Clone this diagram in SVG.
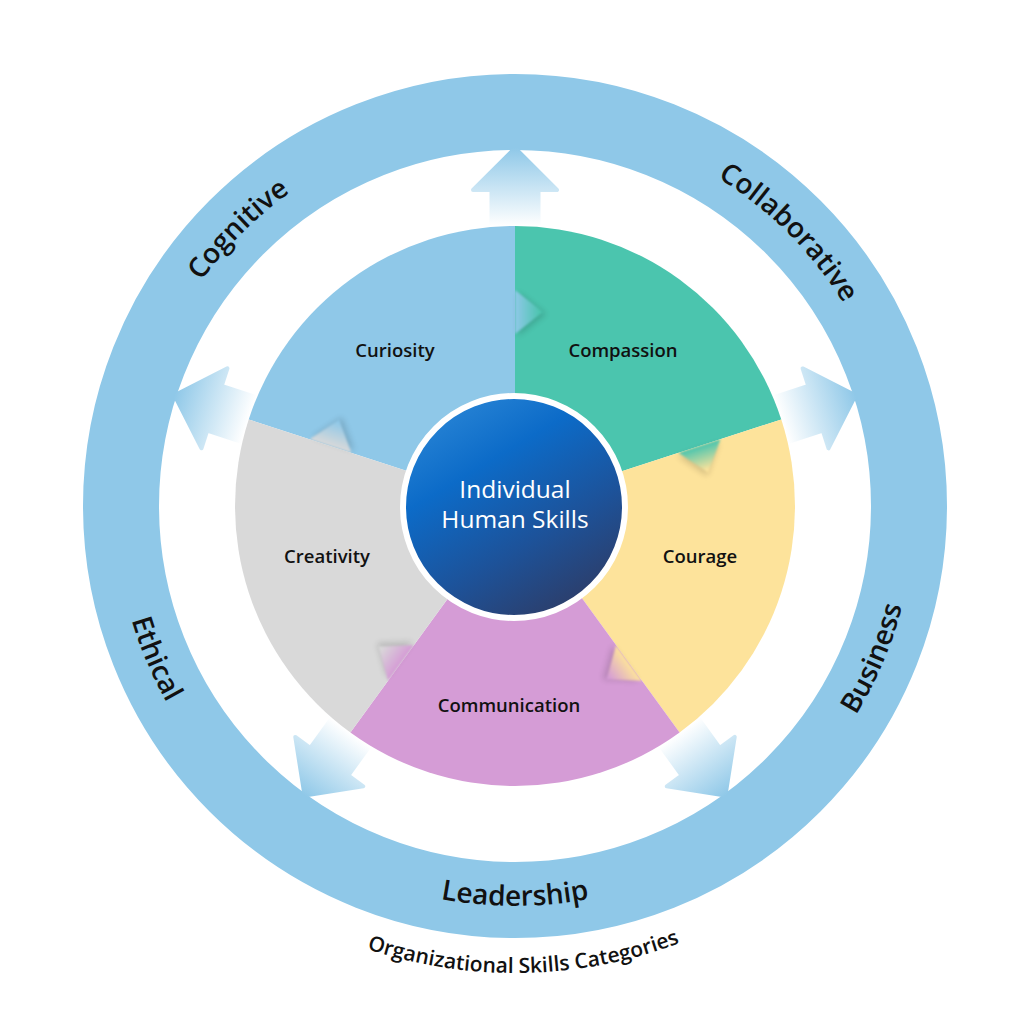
<svg xmlns="http://www.w3.org/2000/svg" width="1024" height="1024" viewBox="0 0 1024 1024">
  <style>
    .lbl { font-family: "Open Sans", "Noto Sans", sans-serif; fill: #111; text-anchor: middle; }
    .sector-lbl { font-size: 18.5px; font-weight: 600; }
    .ring-lbl { font-size: 28px; font-weight: 600; }
    .org-lbl { font-size: 21px; font-weight: 600; }
    .center-lbl { font-family: "Open Sans", "Noto Sans", sans-serif; font-size: 24.5px; fill: #fff; text-anchor: middle; }
    .arrow { stroke-linejoin: round; stroke-width: 4; }
  </style>
  <defs>
    <linearGradient id="arrowGrad" gradientUnits="userSpaceOnUse" x1="0" y1="-280" x2="0" y2="-358">
      <stop offset="0" stop-color="#ffffff"/>
      <stop offset="1" stop-color="#8fc8e8"/>
    </linearGradient>
    <linearGradient id="centerGrad" x1="0.2" y1="0" x2="0.8" y2="1">
      <stop offset="0" stop-color="#2a86d6"/>
      <stop offset="0.3" stop-color="#0c6bc8"/>
      <stop offset="0.65" stop-color="#1d5299"/>
      <stop offset="1" stop-color="#2f3a62"/>
    </linearGradient>
    <linearGradient id="tab0" gradientUnits="userSpaceOnUse" x1="0" y1="0" x2="28" y2="0">
      <stop offset="0" stop-color="#8fc8e8"/><stop offset="0.9" stop-color="#4bc5ae"/>
    </linearGradient>
    <linearGradient id="tab1" gradientUnits="userSpaceOnUse" x1="0" y1="0" x2="28" y2="0">
      <stop offset="0" stop-color="#4bc5ae"/><stop offset="0.9" stop-color="#fde39b"/>
    </linearGradient>
    <linearGradient id="tab2" gradientUnits="userSpaceOnUse" x1="0" y1="0" x2="28" y2="0">
      <stop offset="0" stop-color="#fde39b"/><stop offset="0.9" stop-color="#d59cd6"/>
    </linearGradient>
    <linearGradient id="tab3" gradientUnits="userSpaceOnUse" x1="0" y1="0" x2="28" y2="0">
      <stop offset="0" stop-color="#d59cd6"/><stop offset="0.9" stop-color="#d9d9d9"/>
    </linearGradient>
    <linearGradient id="tab4" gradientUnits="userSpaceOnUse" x1="0" y1="0" x2="28" y2="0">
      <stop offset="0" stop-color="#d9d9d9"/><stop offset="0.9" stop-color="#8fc8e8"/>
    </linearGradient>
    <filter id="soft" x="-50%" y="-50%" width="200%" height="200%">
      <feGaussianBlur stdDeviation="1.2"/>
    </filter>
    <filter id="shadow" x="-60%" y="-60%" width="220%" height="220%">
      <feGaussianBlur stdDeviation="3"/>
    </filter>
    <path id="tabShape" d="M 0,-216 L 28,-194 L 0,-172 Z"/>
    <path id="arrowShape" d="M -23.5,-276 L -23.5,-316 L -42,-316 L 0,-358 L 42,-316 L 23.5,-316 L 23.5,-276 Z"/>
    <path id="topArc" d="M 129,506 A 386 386 0 0 1 901,506"/>
    <path id="botArc" d="M 115,506 A 400 400 0 0 0 915,506"/>
    <path id="orgArc" d="M 48,506 A 467 467 0 0 0 982,506"/>
  </defs>

  <rect width="1024" height="1024" fill="#ffffff"/>

  <g id="ring">
    <circle cx="515" cy="506" r="394" fill="none" stroke="#8fc8e8" stroke-width="76"/>
  </g>

  <g id="connectors">
    <use href="#arrowShape" class="arrow" fill="url(#arrowGrad)" stroke="url(#arrowGrad)" transform="translate(515,506) rotate(0)"/>
    <use href="#arrowShape" class="arrow" fill="url(#arrowGrad)" stroke="url(#arrowGrad)" transform="translate(515,506) rotate(72)"/>
    <use href="#arrowShape" class="arrow" fill="url(#arrowGrad)" stroke="url(#arrowGrad)" transform="translate(515,506) rotate(144)"/>
    <use href="#arrowShape" class="arrow" fill="url(#arrowGrad)" stroke="url(#arrowGrad)" transform="translate(515,506) rotate(216)"/>
    <use href="#arrowShape" class="arrow" fill="url(#arrowGrad)" stroke="url(#arrowGrad)" transform="translate(515,506) rotate(288)"/>
  </g>

  <g id="curiosity">
    <path d="M 515,506 L 248.7,419.5 A 280 280 0 0 1 515,226 Z" fill="#8fc8e8"/>
  </g>
  <g id="compassion">
    <path d="M 515,506 L 515,226 A 280 280 0 0 1 781.3,419.5 Z" fill="#4bc5ae"/>
  </g>
  <g id="courage">
    <path d="M 515,506 L 781.3,419.5 A 280 280 0 0 1 679.6,732.5 Z" fill="#fde39b"/>
  </g>
  <g id="communication">
    <path d="M 515,506 L 679.6,732.5 A 280 280 0 0 1 350.4,732.5 Z" fill="#d59cd6"/>
  </g>
  <g id="creativity">
    <path d="M 515,506 L 350.4,732.5 A 280 280 0 0 1 248.7,419.5 Z" fill="#d9d9d9"/>
  </g>

  <g id="tabs">
    <g transform="translate(515,506) rotate(0)">
      <use href="#tabShape" fill="#000" opacity="0.15" filter="url(#shadow)" transform="translate(3,2)"/>
      <use href="#tabShape" fill="url(#tab0)" filter="url(#soft)"/>
    </g>
    <g transform="translate(515,506) rotate(72)">
      <use href="#tabShape" fill="#000" opacity="0.15" filter="url(#shadow)" transform="translate(3,2)"/>
      <use href="#tabShape" fill="url(#tab1)" filter="url(#soft)"/>
    </g>
    <g transform="translate(515,506) rotate(144)">
      <use href="#tabShape" fill="#000" opacity="0.15" filter="url(#shadow)" transform="translate(3,2)"/>
      <use href="#tabShape" fill="url(#tab2)" filter="url(#soft)"/>
    </g>
    <g transform="translate(515,506) rotate(216)">
      <use href="#tabShape" fill="#000" opacity="0.15" filter="url(#shadow)" transform="translate(3,2)"/>
      <use href="#tabShape" fill="url(#tab3)" filter="url(#soft)"/>
    </g>
    <g transform="translate(515,506) rotate(288)">
      <use href="#tabShape" fill="#000" opacity="0.15" filter="url(#shadow)" transform="translate(3,2)"/>
      <use href="#tabShape" fill="url(#tab4)" filter="url(#soft)"/>
    </g>
  </g>

  <g id="sector-labels">
    <text class="lbl sector-lbl" x="395" y="357">Curiosity</text>
    <text class="lbl sector-lbl" x="623" y="357">Compassion</text>
    <text class="lbl sector-lbl" x="700" y="563">Courage</text>
    <text class="lbl sector-lbl" x="509" y="712">Communication</text>
    <text class="lbl sector-lbl" x="327" y="563">Creativity</text>
  </g>

  <g id="center">
    <circle cx="514" cy="507" r="111" fill="url(#centerGrad)" stroke="#ffffff" stroke-width="6"/>
    <text class="center-lbl" x="515" y="498">Individual</text>
    <text class="center-lbl" x="515" y="528">Human Skills</text>
  </g>

  <g id="ring-labels">
    <text class="lbl ring-lbl"><textPath href="#topArc" startOffset="25%">Cognitive</textPath></text>
    <text class="lbl ring-lbl"><textPath href="#topArc" startOffset="75%">Collaborative</textPath></text>
    <text class="lbl ring-lbl"><textPath href="#botArc" startOffset="12.8%">Ethical</textPath></text>
    <text class="lbl ring-lbl"><textPath href="#botArc" startOffset="50%">Leadership</textPath></text>
    <text class="lbl ring-lbl"><textPath href="#botArc" startOffset="87.2%">Business</textPath></text>
  </g>

  <g id="caption">
    <text class="lbl org-lbl"><textPath href="#orgArc" startOffset="50.6%">Organizational Skills Categories</textPath></text>
  </g>
</svg>
